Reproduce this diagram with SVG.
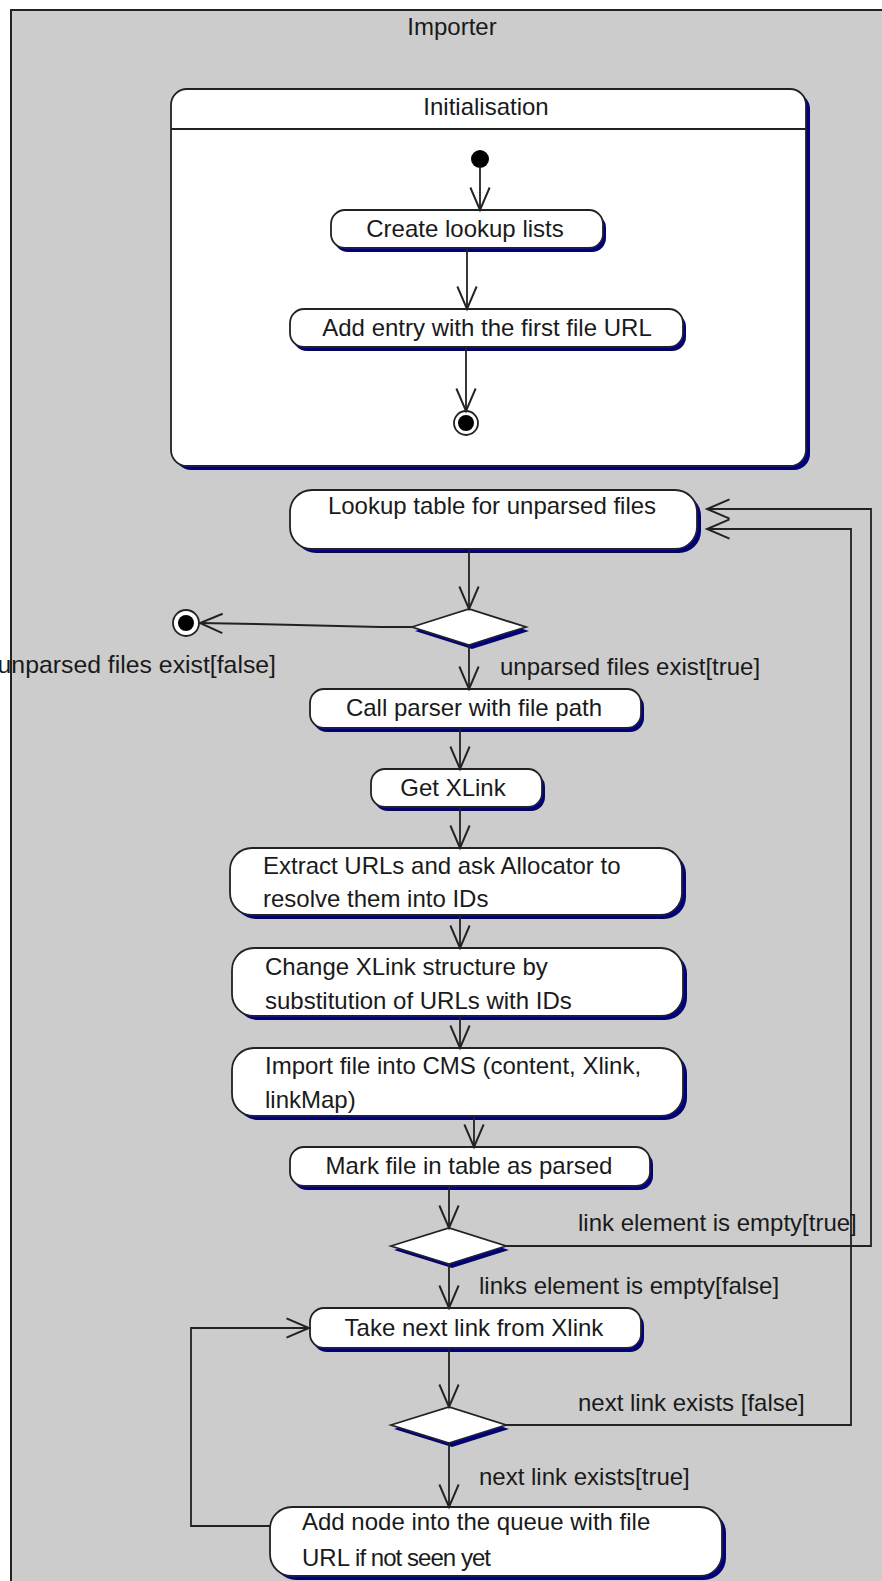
<svg xmlns="http://www.w3.org/2000/svg" width="882" height="1581" viewBox="0 0 882 1581">
  <style>
    .frame { fill: #cccccc; stroke: #222; stroke-width: 2; }
    .box { fill: #ffffff; stroke: #222; stroke-width: 1.8; }
    .shadow { fill: #000080; stroke: none; }
    .txt { font-family: "Liberation Sans", Arial, sans-serif; font-size: 24px; fill: #1a1a1a; }
    .mid { text-anchor: middle; }
    .end { text-anchor: end; }
    .arrow { fill: none; stroke: #222; stroke-width: 1.8; marker-end: url(#open); }
    .dot { fill: #000; }
  </style>
  <defs>
    <marker id="open" markerUnits="userSpaceOnUse" markerWidth="30" markerHeight="30" viewBox="-24 -12 28 24" refX="0" refY="0" orient="auto">
      <path d="M-21,-9 L0,0 L-21,9" fill="none" stroke="#222" stroke-width="1.8"/>
    </marker>
  </defs>

  <rect width="882" height="1581" fill="#ffffff"/>

  <!-- outer swimlane frame -->
  <g id="importer">
    <rect class="frame" x="11" y="10" width="900" height="1600"/>
    <text class="txt mid" x="452" y="35">Importer</text>
  </g>

  <!-- composite state: Initialisation -->
  <g id="initialisation">
    <rect class="shadow" x="175" y="93" width="635" height="377" rx="16"/>
    <rect class="box" x="171" y="89" width="635" height="377" rx="16"/>
    <line x1="171" y1="129" x2="806" y2="129" stroke="#222" stroke-width="1.8"/>
    <text class="txt mid" x="486" y="115">Initialisation</text>
  </g>

  <g id="init-start">
    <circle class="dot" cx="480" cy="159" r="9"/>
  </g>

  <g id="create-lookup-lists">
    <rect class="shadow" x="334" y="214" width="272" height="38" rx="14"/>
    <rect class="box" x="331" y="210" width="272" height="38" rx="14"/>
    <text class="txt mid" x="465" y="237">Create lookup lists</text>
  </g>

  <g id="add-entry">
    <rect class="shadow" x="293" y="313" width="393" height="38" rx="14"/>
    <rect class="box" x="290" y="309" width="393" height="38" rx="14"/>
    <text class="txt mid" x="487" y="336">Add entry with the first file URL</text>
  </g>

  <g id="init-end">
    <circle cx="466" cy="423" r="12" fill="#fff" stroke="#222" stroke-width="1.8"/>
    <circle class="dot" cx="466" cy="423" r="8"/>
  </g>

  <g id="lookup-table">
    <rect class="shadow" x="294" y="494" width="407" height="59" rx="22"/>
    <rect class="box" x="290" y="490" width="407" height="59" rx="22"/>
    <text class="txt mid" x="492" y="514">Lookup table for unparsed files</text>
  </g>

  <g id="decision-unparsed">
    <polygon class="shadow" points="415,631 472,613 529,631 472,649"/>
    <polygon class="box" points="412,627 469,609 526,627 469,645"/>
  </g>

  <g id="final-end">
    <circle cx="186" cy="623" r="13" fill="#fff" stroke="#222" stroke-width="1.8"/>
    <circle class="dot" cx="186" cy="623" r="8"/>
  </g>

  <g id="call-parser">
    <rect class="shadow" x="313" y="693" width="331" height="39" rx="14"/>
    <rect class="box" x="310" y="689" width="331" height="39" rx="14"/>
    <text class="txt mid" x="474" y="716">Call parser with file path</text>
  </g>

  <g id="get-xlink">
    <rect class="shadow" x="374" y="773" width="171" height="38" rx="14"/>
    <rect class="box" x="371" y="769" width="171" height="38" rx="14"/>
    <text class="txt mid" x="453" y="796">Get XLink</text>
  </g>

  <g id="extract-urls">
    <rect class="shadow" x="234" y="852" width="452" height="67" rx="22"/>
    <rect class="box" x="230" y="848" width="452" height="67" rx="22"/>
    <text class="txt" x="263" y="874">Extract URLs and ask Allocator to</text>
    <text class="txt" x="263" y="907">resolve them into IDs</text>
  </g>

  <g id="change-xlink">
    <rect class="shadow" x="236" y="952" width="451" height="68" rx="22"/>
    <rect class="box" x="232" y="948" width="451" height="68" rx="22"/>
    <text class="txt" x="265" y="975">Change XLink structure by</text>
    <text class="txt" x="265" y="1009">substitution of URLs with IDs</text>
  </g>

  <g id="import-file">
    <rect class="shadow" x="236" y="1052" width="451" height="68" rx="22"/>
    <rect class="box" x="232" y="1048" width="451" height="68" rx="22"/>
    <text class="txt" x="265" y="1074">Import file into CMS (content, Xlink,</text>
    <text class="txt" x="265" y="1108">linkMap)</text>
  </g>

  <g id="mark-parsed">
    <rect class="shadow" x="293" y="1151" width="360" height="39" rx="14"/>
    <rect class="box" x="290" y="1147" width="360" height="39" rx="14"/>
    <text class="txt mid" x="469" y="1174">Mark file in table as parsed</text>
  </g>

  <g id="decision-links-empty">
    <polygon class="shadow" points="394,1250 452,1232 509,1250 452,1268"/>
    <polygon class="box" points="391,1246 449,1228 506,1246 449,1264"/>
  </g>

  <g id="take-next-link">
    <rect class="shadow" x="313" y="1312" width="331" height="40" rx="14"/>
    <rect class="box" x="310" y="1308" width="331" height="40" rx="14"/>
    <text class="txt mid" x="474" y="1336">Take next link from Xlink</text>
  </g>

  <g id="decision-next-link">
    <polygon class="shadow" points="394,1429 452,1411 509,1429 452,1447"/>
    <polygon class="box" points="391,1425 449,1407 506,1425 449,1443"/>
  </g>

  <g id="add-node">
    <rect class="shadow" x="274" y="1511" width="452" height="69" rx="22"/>
    <rect class="box" x="270" y="1507" width="452" height="69" rx="22"/>
    <text class="txt" x="302" y="1530">Add node into the queue with file</text>
    <text class="txt" x="302" y="1566">URL <tspan x="355" textLength="136" lengthAdjust="spacing">if not seen yet</tspan></text>
  </g>

  <!-- transitions -->
  <g id="connectors">
    <line class="arrow" x1="480" y1="168" x2="480" y2="210"/>
    <line class="arrow" x1="467" y1="248" x2="467" y2="309"/>
    <line class="arrow" x1="466" y1="347" x2="466" y2="411"/>
    <line class="arrow" x1="469" y1="549" x2="469" y2="609"/>
    <polyline class="arrow" points="412,627 380,627 255,624 200,623"/>
    <line class="arrow" x1="469" y1="645" x2="469" y2="689"/>
    <line class="arrow" x1="460" y1="728" x2="460" y2="769"/>
    <line class="arrow" x1="460" y1="807" x2="460" y2="848"/>
    <line class="arrow" x1="460" y1="915" x2="460" y2="948"/>
    <line class="arrow" x1="460" y1="1016" x2="460" y2="1048"/>
    <line class="arrow" x1="474" y1="1116" x2="474" y2="1147"/>
    <line class="arrow" x1="449" y1="1186" x2="449" y2="1228"/>
    <line class="arrow" x1="449" y1="1264" x2="449" y2="1308"/>
    <line class="arrow" x1="449" y1="1348" x2="449" y2="1407"/>
    <line class="arrow" x1="449" y1="1443" x2="449" y2="1507"/>
    <polyline class="arrow" points="506,1246 871,1246 871,509 707,509"/>
    <polyline class="arrow" points="506,1425 851,1425 851,529 707,529"/>
    <polyline class="arrow" points="270,1526 191,1526 191,1328 309,1328"/>

    <text class="txt end" x="276" y="673" style="font-size:24.8px">unparsed files exist[false]</text>
    <text class="txt" x="500" y="675">unparsed files exist[true]</text>
    <text class="txt" x="578" y="1231">link element is empty[true]</text>
    <text class="txt" x="479" y="1294">links element is empty[false]</text>
    <text class="txt" x="578" y="1411">next link exists [false]</text>
    <text class="txt" x="479" y="1485">next link exists[true]</text>
  </g>
</svg>
